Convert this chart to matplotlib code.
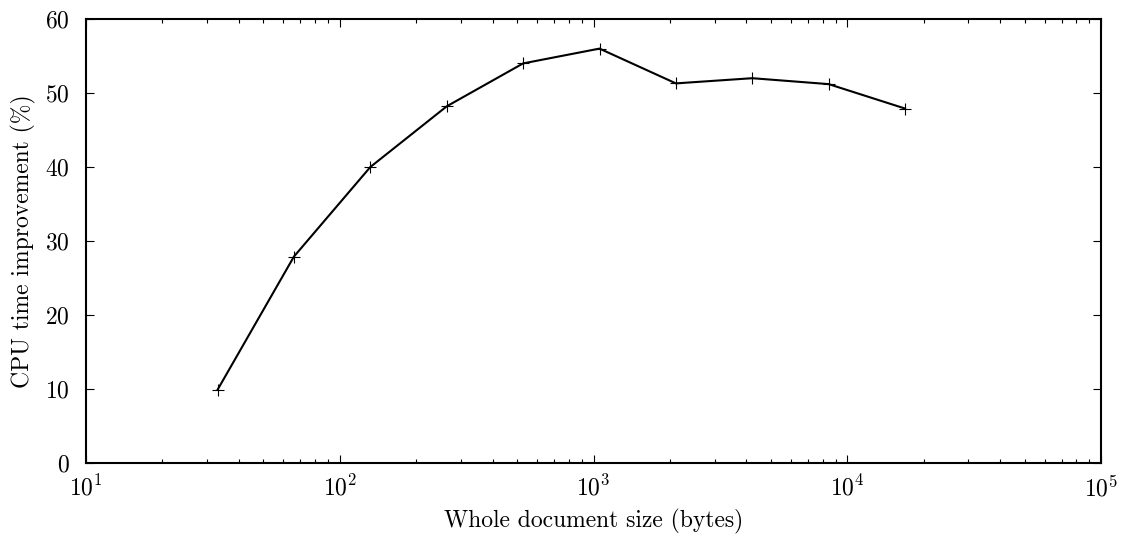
import matplotlib
matplotlib.use("Agg")
import matplotlib.pyplot as plt
from matplotlib.ticker import LogLocator, MultipleLocator, NullFormatter

# data
doc_size = [33, 66, 132, 264, 528, 1056, 2112, 4224, 8448, 16896]
cpu_improvement = [9.9, 27.9, 40.0, 48.2, 54.0, 56.0, 51.3, 52.0, 51.2, 47.9]

plt.rcParams['font.family'] = ['cmr10', 'DejaVu Serif']
plt.rcParams['mathtext.fontset'] = 'cm'
plt.rcParams['axes.formatter.use_mathtext'] = True
plt.rcParams['font.size'] = 17

fig = plt.figure(figsize=(11.25, 5.39), dpi=100)
ax = fig.add_axes([86 / 1125, 1 - 463 / 539, (1101 - 86) / 1125, (463 - 19) / 539])

ax.plot(doc_size, cpu_improvement, color='black', linewidth=1.5,
        marker='+', markersize=9, markeredgewidth=0.8)

ax.set_xscale('log')
ax.set_xlim(10, 1e5)
ax.set_ylim(0, 60)
ax.xaxis.set_major_locator(LogLocator(base=10, numticks=10))
ax.xaxis.set_minor_locator(LogLocator(base=10, subs=range(2, 10), numticks=50))
ax.xaxis.set_minor_formatter(NullFormatter())
ax.yaxis.set_major_locator(MultipleLocator(10))

ax.tick_params(which='both', direction='in', top=True, right=True, width=0.8, color='black')
ax.tick_params(which='major', length=5.5)
ax.tick_params(which='minor', length=3)
ax.tick_params(axis='y', pad=12)
ax.tick_params(axis='x', pad=9)

for s in ax.spines.values():
    s.set_linewidth(1.5)

ax.set_xlabel('Whole document size (bytes)', labelpad=6)
ax.set_ylabel('CPU time improvement (%)', labelpad=6)

fig.savefig('out.png', dpi=100)
